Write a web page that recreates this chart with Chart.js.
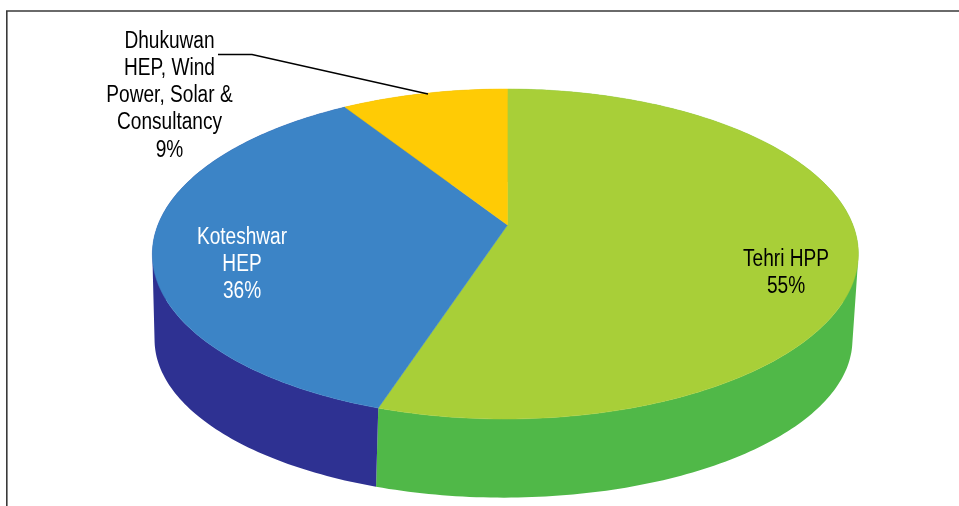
<!DOCTYPE html>
<html>
<head>
<meta charset="utf-8">
<title>Revenue share</title>
<script src="https://cdn.jsdelivr.net/npm/chart.js@4"></script>
<style>
  html, body { margin: 0; padding: 0; background: #fff; }
  canvas { display: block; }
</style>
</head>
<body>
<canvas id="share" width="959" height="506"></canvas>
<script>
const categories = ['Tehri HPP', 'Koteshwar HEP', 'Dhukuwan HEP, Wind Power, Solar & Consultancy'];
const shares = [55, 36, 9];
const topColors = ['#a8cf38', '#3c84c6', '#ffcb05'];
const wallColors = ['#50b848', '#2e3192', '#c99f00'];

// tilted disc: top face and base, centre is where the slices meet
const topFace = { cx: 507.5, cy: 225, a: 347.5, b: 159.9, k: -0.1758, m: 0.006 };
const baseFace = { cx: 503.5, cy: 312, a: 343.5, b: 153, k: -0.1758, m: 0 };

function project(face, angle) {
    const u = Math.cos(angle), v = Math.sin(angle);
    const w = 1 + face.k * v + face.m * u;
    return [face.cx + face.a * u / w, face.cy + face.b * v / w];
}

function rimPath(ctx, face, start, end) {
    const steps = Math.max(8, Math.ceil((end - start) * 60));
    for (let i = 0; i <= steps; i++) {
        const p = project(face, start + (end - start) * i / steps);
        ctx.lineTo(p[0], p[1]);
    }
}

function signedArea(p) {
    let sum = 0;
    p.forEach((q, i) => {
        const r = p[(i + 1) % p.length];
        sum += q[0] * r[1] - r[0] * q[1];
    });
    return sum;
}

// side of a slice: short strips in one path, all wound the same way so they fill as one shape
function drawWall(ctx, start, end, color) {
    const steps = Math.ceil((end - start) * 60);
    ctx.fillStyle = color;
    ctx.beginPath();
    for (let i = 0; i < steps; i++) {
        const a0 = start + (end - start) * i / steps;
        const a1 = start + (end - start) * (i + 1) / steps;
        const p = [project(topFace, a0), project(topFace, a1), project(baseFace, a1), project(baseFace, a0)];
        if (signedArea(p) < 0) p.reverse();
        ctx.moveTo(p[0][0], p[0][1]);
        p.slice(1).forEach(q => ctx.lineTo(q[0], q[1]));
        ctx.closePath();
    }
    ctx.fill();
}

const labelLines = [
    { lines: ['Tehri HPP', '55%'], x: 786, y: 259.5, color: '#000', step: 27 },
    { lines: ['Koteshwar', 'HEP', '36%'], x: 242, y: 238, color: '#fff', step: 27 },
    { lines: ['Dhukuwan', 'HEP, Wind', 'Power, Solar &', 'Consultancy', '9%'], x: 169.5, y: 41.5, color: '#000', step: 27.2 }
];

const tiltedPie = {
    id: 'tiltedPie',
    beforeDatasetsDraw(chart) {
        const ctx = chart.ctx;
        const arcs = chart.getDatasetMeta(0).data;

        // outer frame, open on the right and at the bottom
        ctx.save();
        ctx.strokeStyle = '#3a3a3a';
        ctx.lineWidth = 1.6;
        ctx.beginPath();
        ctx.moveTo(6.8, 506);
        ctx.lineTo(6.8, 11);
        ctx.lineTo(959, 11);
        ctx.stroke();

        // walls first, the top face covers whatever is behind it
        arcs.forEach((arc, i) => drawWall(ctx, arc.startAngle, arc.endAngle, wallColors[i]));

        arcs.forEach((arc, i) => {
            ctx.fillStyle = topColors[i];
            ctx.strokeStyle = topColors[i];
            ctx.lineWidth = 0.5;
            ctx.beginPath();
            ctx.moveTo(topFace.cx, topFace.cy);
            rimPath(ctx, topFace, arc.startAngle, arc.endAngle);
            ctx.closePath();
            ctx.fill();
            ctx.stroke();
        });

        // leader line for the small slice
        ctx.strokeStyle = '#000';
        ctx.lineWidth = 1.3;
        ctx.beginPath();
        ctx.moveTo(218, 54.5);
        ctx.lineTo(252, 54.5);
        ctx.lineTo(428, 94);
        ctx.stroke();

        // condensed labels, the sans is squeezed sideways
        ctx.font = '23px "Liberation Sans", sans-serif';
        ctx.textAlign = 'center';
        ctx.textBaseline = 'middle';
        labelLines.forEach(label => {
            ctx.fillStyle = label.color;
            label.lines.forEach((line, n) => {
                ctx.save();
                ctx.translate(label.x, label.y + n * label.step);
                ctx.scale(0.83, 1);
                ctx.fillText(line, 0, 0);
                ctx.restore();
            });
        });
        ctx.restore();
        return false;
    }
};

new Chart(document.getElementById('share').getContext('2d'), {
    type: 'pie',
    data: {
        labels: categories,
        datasets: [{ data: shares, backgroundColor: topColors, borderWidth: 0 }]
    },
    options: {
        responsive: false,
        animation: false,
        plugins: { legend: { display: false }, tooltip: { enabled: false } }
    },
    plugins: [tiltedPie]
});
</script>
</body>
</html>
